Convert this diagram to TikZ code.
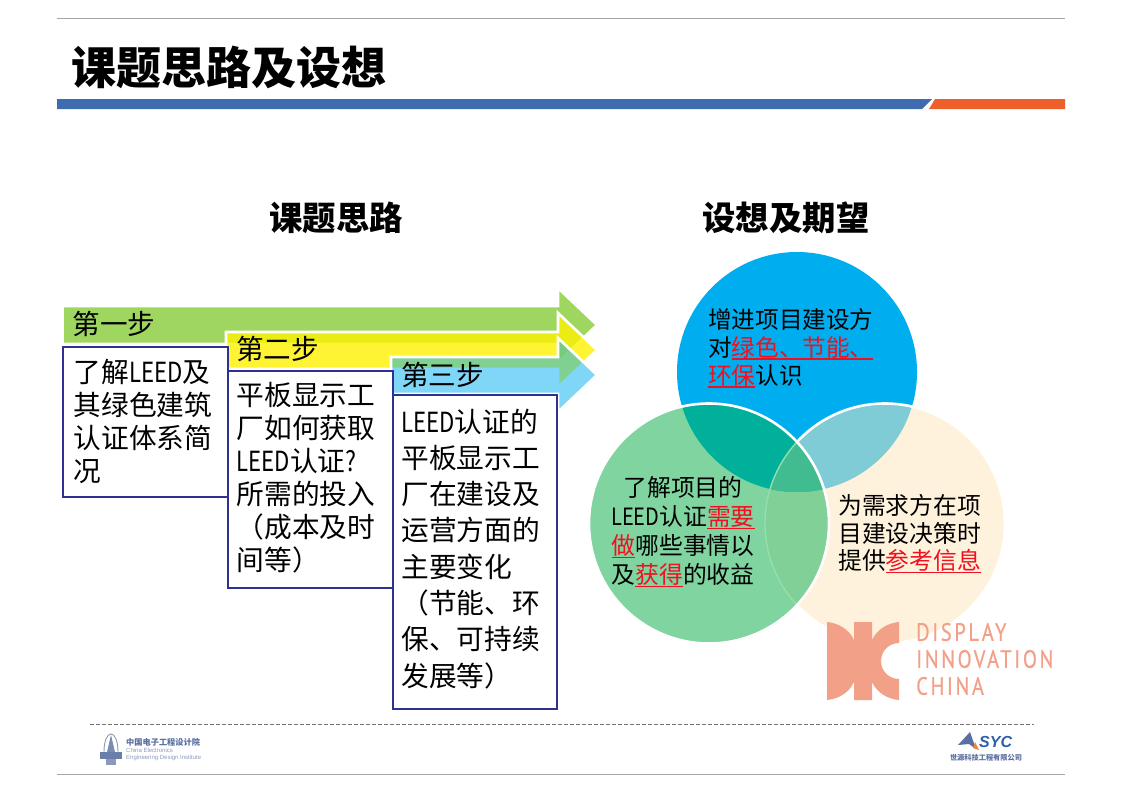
\documentclass[tikz,border=0pt]{standalone}
\usepackage{fontspec}
\setmainfont{Noto Sans CJK SC}
\newfontfamily\narrowlat{Noto Sans CJK SC}[FakeStretch=0.84]
\newfontfamily\dinfont{PT Sans}[FakeStretch=0.82,LetterSpace=10.5,FakeBold=0.6]
\newfontfamily\smallen{Liberation Sans}
\definecolor{ured}{HTML}{F01020}
\definecolor{boxblue}{HTML}{2E3192}
\definecolor{logoc}{HTML}{F3A088}
\definecolor{cblue}{HTML}{00AEEF}
\definecolor{cgreen}{HTML}{80D4A0}
\definecolor{ccream}{HTML}{FFF2DC}
\definecolor{footc}{HTML}{5A6FA0}
\definecolor{barblue}{HTML}{3F6BAF}
\definecolor{barorange}{HTML}{EE5F2B}
\definecolor{stepgreen}{HTML}{9FD660}
\definecolor{ovBC}{HTML}{7FCBD6}
\definecolor{ovGC}{HTML}{80D098}
\definecolor{ovBG}{HTML}{00B09B}
\definecolor{ovAll}{HTML}{40BC90}
\definecolor{ovEdge}{HTML}{96DEAC}
\definecolor{sycorange}{HTML}{EE823C}
\definecolor{sycblue}{HTML}{2E60AA}
\newsavebox\redubox
\newcommand\redu[1]{\sbox\redubox{\color{ured}#1}\leavevmode\rlap{\color{ured}\raisebox{-3.6pt}{\rule{\wd\redubox}{1.3pt}}}\usebox\redubox}
\newcommand\LEED{{\narrowlat LEED}}
\newcommand\LEEDn{{\fontspec{Noto Sans CJK SC}[FakeStretch=0.80]LEED}}
\newcommand\qm{{\narrowlat ?}}
\tikzset{
  x=1pt,y=-1pt,
  pagetitle/.style={anchor=west,inner sep=0pt,font=\bfseries\fontsize{45}{50}\selectfont},
  heading/.style={anchor=center,inner sep=0pt,font=\bfseries\fontsize{33.4}{38}\selectfont},
  steplabel/.style={anchor=west,inner sep=0pt,font=\fontsize{27.6}{32}\selectfont},
  stepbox/.style={draw=boxblue,line width=2.4pt,fill=white,anchor=north west,inner sep=0pt,align=left,font=\fontsize{27.7}{33}\selectfont},
  circtext/.style={inner sep=0pt,font=\fontsize{23.6}{28}\selectfont},
  band/.style={draw=white,line width=2.6pt,line join=miter},
  dictext/.style={anchor=west,inner sep=0pt,text=logoc,font=\dinfont\fontsize{25}{28}\selectfont},
  rulel/.style={draw=black!35,line width=1pt},
}
\begin{document}
\begin{tikzpicture}
\useasboundingbox (0,0) rectangle (1122,793);
\fill[white] (0,0) rectangle (1122,793);
% header
\draw[rulel] (57,18.5) -- (1065,18.5);
\draw[rulel] (57,774) -- (1065,774);
\fill[barblue] (57,99) -- (932,99) -- (922,109) -- (57,109) -- cycle;
\fill[barorange] (935,99) -- (1065,99) -- (1065,109) -- (929,109) -- cycle;
\node[pagetitle] (title) at (71.5,67) {课题思路及设想};
\node[heading] (headL) at (336,218) {课题思路};
\node[heading] (headR) at (786,218) {设想及期望};
% step arrows
\path[band,fill=stepgreen] (62.5,306) -- (558,306) -- (558,288) -- (597,325) -- (558,362) -- (558,344) -- (62.5,344) -- cycle;
\path[band,fill=yellow,fill opacity=.8,draw opacity=1] (226,332) -- (558,332) -- (558,313) -- (597,350) -- (558,387) -- (558,369) -- (226,369) -- cycle;
\path[band,fill=cblue,fill opacity=.5,draw opacity=1] (391,357) -- (558,357) -- (558,338) -- (597,375) -- (558,412) -- (558,394) -- (391,394) -- cycle;
\node[steplabel] (s1) at (72.5,324) {第一步};
\node[steplabel] (s2) at (236,349) {第二步};
\node[steplabel] (s3) at (401,375) {第三步};
% step boxes
\node[stepbox,minimum width=165pt,minimum height=150pt] (b1) at (62,346) {\hspace{5.8pt}\parbox{150pt}{\baselineskip=33pt \vspace{-1pt}了解\LEEDn 及\\其绿色建筑\\认证体系简\\况}};
\node[stepbox,minimum width=165pt,minimum height=217pt] (b2) at (227,370) {\hspace{4pt}\parbox{152pt}{\baselineskip=33pt \vspace{-3pt}平板显示工\\厂如何获取\\\LEEDn 认证\qm\\所需的投入\\（成本及时\\间等）\vspace{1pt}}};
\node[stepbox,minimum width=164pt,minimum height=314pt] (b3) at (392,394) {\hspace{4.5pt}\parbox{152pt}{\baselineskip=36.3pt \vspace{-4pt}\LEEDn 认证的\\平板显示工\\厂在建设及\\运营方面的\\主要变化\\（节能、环\\保、可持续\\发展等）\vspace{3pt}}};
% venn
\def\cB{(797,372) circle[radius=120pt]}
\def\cG{(709,523.5) circle[radius=120pt]}
\def\cC{(885,523.5) circle[radius=120pt]}
\fill[cblue] \cB;
\fill[ccream] \cC;
\begin{scope}\clip \cB; \fill[ovBC] \cC; \end{scope}
\draw[white,line width=2.6pt] \cC;
\fill[cgreen] \cG;
\begin{scope}\clip \cC; \fill[ovGC] \cG; \end{scope}
\begin{scope}\clip \cB; \fill[ovBG] \cG; \end{scope}
\begin{scope}\clip \cB; \clip \cC; \fill[ovAll] \cG; \end{scope}
\begin{scope}\clip \cG; \draw[ovEdge,line width=1.4pt] \cC; \end{scope}
\draw[white,line width=2.6pt] \cG;
\node[circtext,anchor=north west,align=left] (tB) at (708,308) {增进项目建设方\\对\redu{绿色、节能、}\\\redu{环保}认识};
\node[circtext,align=center,font=\fontsize{23.8}{29}\selectfont] (tG) at (683,532) {了解项目的\\\LEED 认证\redu{需要}\\\redu{做}哪些事情以\\及\redu{获得}的收益};
\node[circtext,anchor=west,align=left,font=\fontsize{23.8}{27.5}\selectfont] (tC) at (838,534) {为需求方在项\\目建设决策时\\提供\redu{参考信息}};
% DIC logo
\fill[logoc] (827,622) .. controls (838,623) and (849,629) .. (854,640) -- (854,622) -- (872,622) -- (872,640) .. controls (877,629) and (888,623) .. (899,622) -- (899,643) .. controls (889,643) and (881,651) .. (881,661) .. controls (881,671) and (889,679) .. (899,679) -- (899,700) .. controls (888,699) and (877,693) .. (872,682) -- (872,700) -- (854,700) -- (854,682) .. controls (849,693) and (838,699) .. (827,700) -- cycle;
\node[dictext] (d1) at (916,632) {DISPLAY};
\node[dictext] (d2) at (916,659) {INNOVATION};
\node[dictext] (d3) at (916,686) {CHINA};
% footer
\draw[black!55,line width=1pt,dash pattern=on 3.5pt off 2.5pt] (90,724) -- (1034,724);
\draw[footc!70!white,line width=.9pt] (104,752) .. controls (104,728) and (118,728) .. (118,752);
\fill[footc!80!white] (111,735) -- (115,752) -- (107,752) -- cycle;
\fill[footc!90!white] (100,752) rectangle (122,759);
\fill[footc!70!white] (106,759) rectangle (116,765);
\node[anchor=west,inner sep=0pt,text=footc,font=\bfseries\fontsize{8.2}{9}\selectfont] (f1) at (126,742) {中国电子工程设计院};
\node[anchor=north west,inner sep=0pt,align=left,text=footc!70!white,font=\smallen\fontsize{6}{7.6}\selectfont] (f2) at (126,747.5) {China Electronics\\Engineering Design Institute};
\fill[footc] (970,732) -- (976,749) -- (969,744) -- (958,745) -- cycle;
\fill[sycorange] (975,742) -- (979,750) -- (973,748) -- cycle;
\node[anchor=west,inner sep=0pt,text=sycblue,font=\smallen\bfseries\itshape\fontsize{16}{16}\selectfont] (f3) at (979,742) {SYC};
\node[anchor=center,inner sep=0pt,text=footc,font=\bfseries\fontsize{7.2}{8}\selectfont] (f4) at (986,758) {世源科技工程有限公司};
\end{tikzpicture}
\end{document}
